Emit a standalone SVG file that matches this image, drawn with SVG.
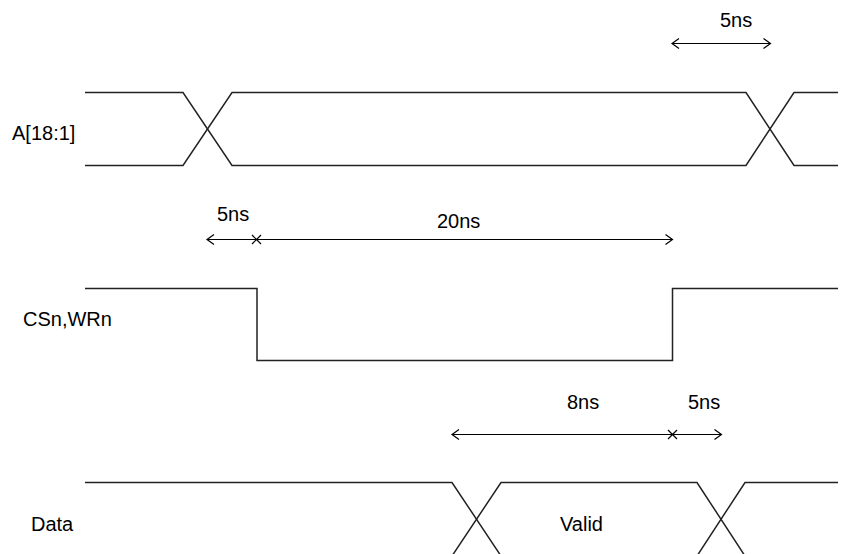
<svg xmlns="http://www.w3.org/2000/svg" width="858" height="554" viewBox="0 0 858 554">
<style>
  text { font-family: "Liberation Sans", Arial, sans-serif; font-size: 20px; fill: #000; }
  .wave { fill: none; stroke: #222; stroke-width: 1.5; }
  .dim { fill: none; stroke: #000; stroke-width: 1.2; }
</style>
<defs>
  <marker id="head" viewBox="-8 -6 10 12" markerWidth="10" markerHeight="12" refX="0" refY="0" orient="auto-start-reverse" markerUnits="userSpaceOnUse">
    <path d="M-7,-5 L0,0 L-7,5" fill="none" stroke="#000" stroke-width="1.2"/>
  </marker>
</defs>
<rect width="858" height="554" fill="#fff"/>

<g id="label-a"><text x="12" y="140">A[18:1]</text></g>
<g id="label-cs"><text x="23" y="326">CSn,WRn</text></g>
<g id="label-data"><text x="31" y="531">Data</text></g>

<g id="signal-a">
  <path class="wave" d="M85,92.5 H183 L232,165.5 H746 L794,92.5 H838"/>
  <path class="wave" d="M85,165.5 H183 L232,92.5 H746 L794,165.5 H838"/>
</g>

<g id="signal-cs">
  <path class="wave" d="M85,288.5 H257 V360.5 H672.5 V288.5 H838"/>
</g>

<g id="signal-data">
  <path class="wave" d="M85,482.5 H452 L501,556"/>
  <path class="wave" d="M452,556 L501,482.5 H697 L745,556"/>
  <path class="wave" d="M697,556 L745,482.5 H838"/>
  <text x="560" y="531">Valid</text>
</g>

<g id="connectors">
  <line class="dim" x1="672" y1="43.5" x2="770.5" y2="43.5" marker-start="url(#head)" marker-end="url(#head)"/>
  <text x="720" y="27">5ns</text>

  <line class="dim" x1="207" y1="239.5" x2="256.5" y2="239.5" marker-start="url(#head)"/>
  <line class="dim" x1="256.5" y1="239.5" x2="672.5" y2="239.5" marker-end="url(#head)"/>
  <path class="dim" d="M252,235 L261,244 M252,244 L261,235"/>
  <text x="217" y="221">5ns</text>
  <text x="437" y="228">20ns</text>

  <line class="dim" x1="452" y1="434.5" x2="672.5" y2="434.5" marker-start="url(#head)"/>
  <line class="dim" x1="672.5" y1="434.5" x2="721.5" y2="434.5" marker-end="url(#head)"/>
  <path class="dim" d="M668,430 L677,439 M668,439 L677,430"/>
  <text x="567" y="409">8ns</text>
  <text x="688" y="409">5ns</text>
</g>
</svg>
